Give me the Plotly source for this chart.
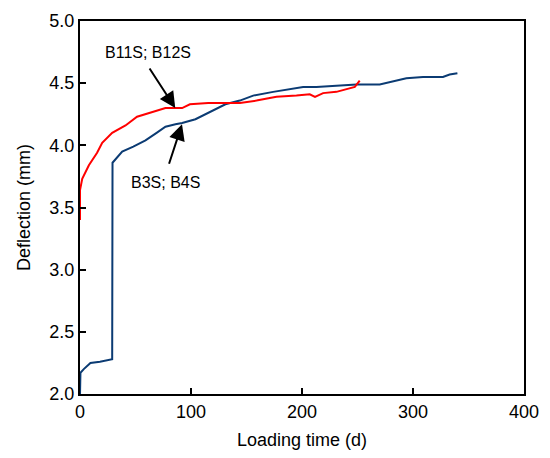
import plotly.graph_objects as go

# Deflection history of the two beam groups
days_b3s = [0, 0.4, 3.4, 9.4, 18, 24.5, 28, 29, 29.3, 32, 38, 48, 59, 69, 77, 86, 92, 104,
            113, 122, 131, 144, 156, 174, 186, 201, 213, 249, 270, 294, 309, 327, 333, 340]
defl_b3s = [2.0, 2.17, 2.2, 2.25, 2.26, 2.27, 2.28, 2.28, 3.86, 3.89, 3.95, 3.99, 4.04, 4.10,
            4.15, 4.17, 4.18, 4.21, 4.25, 4.29, 4.33, 4.36, 4.40, 4.43, 4.45, 4.47, 4.47,
            4.49, 4.49, 4.54, 4.55, 4.55, 4.57, 4.58]

days_b11s = [0, 0, 2, 8, 15.4, 20, 29, 41, 51.4, 65, 77, 92, 99, 115.5, 131, 144, 159, 177,
             195, 207, 211.7, 219, 231, 240, 247.6, 252]
defl_b11s = [3.4, 3.64, 3.73, 3.84, 3.94, 4.02, 4.10, 4.16, 4.23, 4.27, 4.30, 4.30, 4.33,
             4.34, 4.34, 4.34, 4.36, 4.39, 4.40, 4.41, 4.39, 4.42, 4.43, 4.45, 4.47, 4.52]

x_ticks = [0, 100, 200, 300, 400]
y_ticks = [2.0, 2.5, 3.0, 3.5, 4.0, 4.5, 5.0]

font = "Liberation Sans, Arial, sans-serif"

fig = go.Figure()
fig.add_trace(go.Scatter(x=days_b3s, y=defl_b3s, mode="lines",
                         line=dict(color="#0b3b73", width=2), name="B3S; B4S"))
fig.add_trace(go.Scatter(x=days_b11s, y=defl_b11s, mode="lines",
                         line=dict(color="#ff0000", width=2), name="B11S; B12S"))

# Labels with arrows pointing at each curve
fig.add_annotation(x=85.8, y=4.30, ax=61.8, ay=4.63, xref="x", yref="y", axref="x", ayref="y",
                   text="", showarrow=True, arrowhead=2, arrowsize=1.6, arrowwidth=2,
                   arrowcolor="black")
fig.add_annotation(x=61.6, y=4.75, xref="x", yref="y", text="B11S; B12S", showarrow=False,
                   font=dict(family=font, size=16, color="black"))
fig.add_annotation(x=91.9, y=4.17, ax=79.8, ay=3.84, xref="x", yref="y", axref="x", ayref="y",
                   text="", showarrow=True, arrowhead=2, arrowsize=1.6, arrowwidth=2,
                   arrowcolor="black")
fig.add_annotation(x=76.9, y=3.70, xref="x", yref="y", text="B3S; B4S", showarrow=False,
                   font=dict(family=font, size=16, color="black"))

axis_common = dict(showgrid=False, zeroline=False, showline=True, linecolor="black",
                   linewidth=2, mirror=True, ticks="inside", ticklen=6, tickwidth=1.5,
                   tickcolor="black", tickfont=dict(family=font, size=18, color="black"))

fig.update_xaxes(range=[0, 400], tickvals=x_ticks, ticktext=[str(v) for v in x_ticks],
                 title=dict(text="Loading time (d)", font=dict(family=font, size=18, color="black"),
                            standoff=13),
                 **axis_common)
fig.update_yaxes(range=[2.0, 5.0], tickvals=y_ticks, ticktext=[f"{v:.1f}" for v in y_ticks],
                 title=dict(text="Deflection (mm)", font=dict(family=font, size=18, color="black"),
                            standoff=14),
                 **axis_common)

fig.update_layout(width=550, height=458, margin=dict(l=80, r=25, t=11, b=62),
                  paper_bgcolor="white", plot_bgcolor="white", showlegend=False)

fig.write_html("out.html")
